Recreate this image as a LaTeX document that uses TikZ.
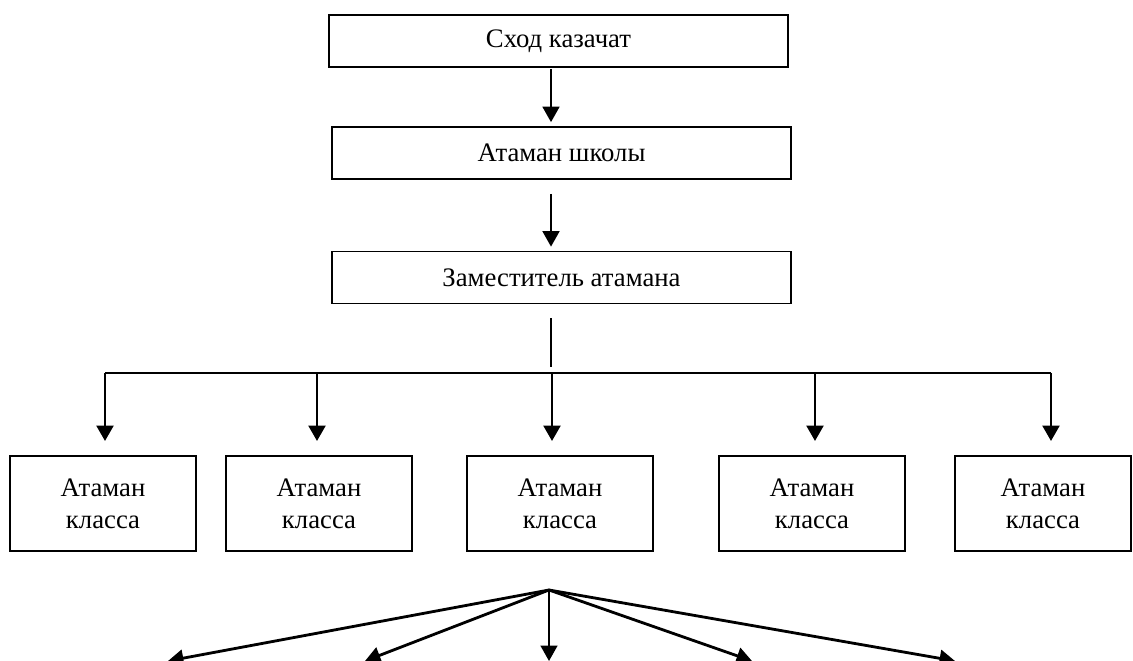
\documentclass[tikz,border=0pt]{standalone}
\usepackage{fontspec}
\setmainfont{Liberation Serif}
\usetikzlibrary{arrows.meta,positioning,calc}
\tikzset{box/.style={
            draw,
            line width=1.3pt,
            inner sep=0pt,
            minimum width=11.475cm,
            minimum height=1.3cm,
            align=center,
            font=\fontsize{19}{22.8}\selectfont
        },
        classbox/.style={
            box,
            minimum width=4.65cm,
            minimum height=2.375cm
        },
        link/.style={
            ->,
            line width=2pt
        },
        thinlink/.style={
            ->,
            line width=1.4pt
        }
    }

\begin{document}
\begin{tikzpicture}
        [x=0.025cm,y=-0.025cm,>={Triangle[length=11pt,width=12pt]}]

        \useasboundingbox (0,0) rectangle (1133,661);

        \node[box] (shod) at (558.5,41) {Сход казачат};
        \node[box] (school) at (561.5,153) {Атаман школы};
        \node[box] (deputy) at (561.5,277.5) {Заместитель атамана};

        \node[classbox] (cls1) at (103,503.5) {Атаман\\класса};
        \node[classbox] (cls2) at (319,503.5) {Атаман\\класса};
        \node[classbox] (cls3) at (560,503.5) {Атаман\\класса};
        \node[classbox] (cls4) at (812,503.5) {Атаман\\класса};
        \node[classbox,minimum width=4.4cm] (cls5) at (1043,503.5) {Атаман\\класса};

        \coordinate (axis) at (551,317);
        \coordinate (bus) at (551,373);
        \coordinate (d1) at (105,373);
        \coordinate (d2) at (317,373);
        \coordinate (d3) at (552,373);
        \coordinate (d4) at (815,373);
        \coordinate (d5) at (1051,373);

        \draw[thinlink,shorten <=0.7pt,shorten >=2.8pt] (shod.south -| axis) -- (school.north -| axis);
        \draw[thinlink,shorten <=10pt,shorten >=2.8pt] (school.south -| axis) -- (deputy.north -| axis);
        \draw[line width=1.4pt,shorten <=10pt,shorten >=4.3pt] (deputy.south -| axis) -- (bus);

        \draw[line width=2pt] (d1) -- (d5);
        \foreach \i in {1,...,5}
            \draw[link,shorten >=10pt] (d\i) -- (d\i |- cls\i.north);

        % fan below the middle class
        \coordinate (fan) at (549,590);
        \coordinate (f1) at (168,661);
        \coordinate (f2) at (365,661);
        \coordinate (f3) at (549,661);
        \coordinate (f4) at (752,661);
        \coordinate (f5) at (955,661);
        \foreach \i in {1,2,4,5}
            \draw[link] (fan) -- (f\i);
        \draw[thinlink] (fan) -- (f3);

    \end{tikzpicture}
\end{document}
